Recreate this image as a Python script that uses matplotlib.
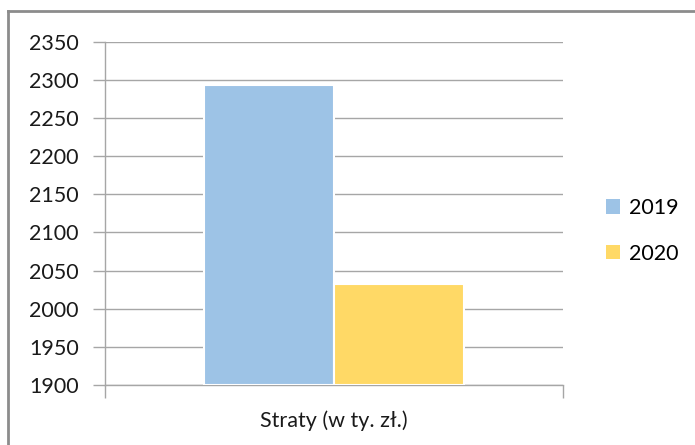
import matplotlib.pyplot as plt
import matplotlib.patches as patches
from matplotlib.lines import Line2D

# data
category = 'Straty (w ty. zł.)'
years = ['2019', '2020']
values = [2294, 2032]
colors = ['#9DC3E6', '#FFD966']

plt.rcParams['font.family'] = ['Lato', 'DejaVu Sans']
FS = 15.5

fig = plt.figure(figsize=(6.95, 4.45), dpi=100)
ax = fig.add_axes([0.151, 0.135, 0.659, 0.771])

bar_w = 0.284
offsets = [-bar_w / 2, bar_w / 2]
for yr, val, col, off in zip(years, values, colors, offsets):
    ax.bar(off, val - 1900, bottom=1900, width=bar_w, color=col,
           edgecolor='white', linewidth=1.5, label=yr, zorder=3)

grid_c = '#A6A6A6'
ax.set_xlim(-0.5, 0.5)
ax.set_ylim(1900, 2350)
ax.set_yticks(range(1900, 2351, 50))
ax.yaxis.grid(True, color=grid_c, linewidth=1.0, zorder=0)
ax.tick_params(axis='y', length=9, width=1, color=grid_c, pad=10,
               labelsize=FS, labelcolor='#1a1a1a')

ax.set_xticks([0])
ax.set_xticklabels([category])
ax.tick_params(axis='x', which='major', length=0, pad=18, labelsize=FS,
               labelcolor='#1a1a1a')
ax.set_xticks([-0.5, 0.5], minor=True)
ax.tick_params(axis='x', which='minor', length=9, width=1, color=grid_c)

for s in ['top', 'right']:
    ax.spines[s].set_visible(False)
for s in ['left', 'bottom']:
    ax.spines[s].set_color(grid_c)
    ax.spines[s].set_linewidth(1.0)

handles = [patches.Patch(facecolor=c, edgecolor='none') for c in colors]
fig.legend(handles, years, loc='center left', bbox_to_anchor=(0.856, 0.481),
           frameon=False, fontsize=FS, handlelength=0.65, handleheight=0.65,
           handletextpad=0.45, labelspacing=1.2, borderpad=0)

# chart frame (only left and top edges visible in the crop)
fig.add_artist(Line2D([8 / 695, 8 / 695], [0, 1 - 11 / 445], color='#8C8C8C',
                      linewidth=2.0, transform=fig.transFigure))
fig.add_artist(Line2D([8 / 695, 1], [1 - 11 / 445, 1 - 11 / 445], color='#8C8C8C',
                      linewidth=2.0, transform=fig.transFigure))

plt.savefig('out.png', dpi=100)
